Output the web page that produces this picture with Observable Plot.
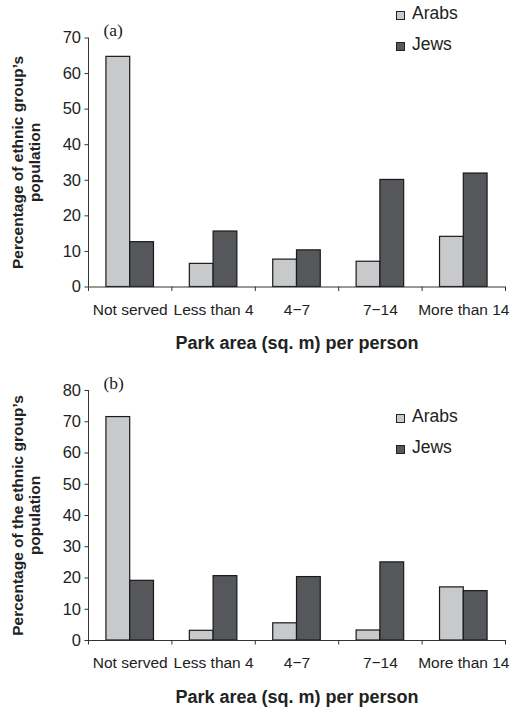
<!DOCTYPE html>
<html><head><meta charset="utf-8">
<script src="https://cdn.jsdelivr.net/npm/d3@7"></script>
<script src="https://cdn.jsdelivr.net/npm/@observablehq/plot@0.6"></script>
<style>
body{margin:0;background:#fff;font-family:"Liberation Sans",Arial,sans-serif;color:#222;}
.chart{position:relative;width:515px;}
.chart svg{display:block;}
.item{position:absolute;left:396px;height:20px;white-space:nowrap;display:flex;align-items:center;font-size:17.5px;color:#222;}
.sw{width:7px;height:7px;border:1px solid #222;margin-right:7px;position:relative;top:2px;}
</style></head><body>
<div id="a" class="chart"></div>
<div id="b" class="chart"></div>
<script>
const categories = ["Not served", "Less than 4", "4\u22127", "7\u221214", "More than 14"];
const series = ["Arabs", "Jews"];
const arabsA = [64.7, 6.5, 7.7, 7.1, 14.1];
const jewsA  = [12.6, 15.6, 10.3, 30.1, 31.9];
const arabsB = [71.5, 3.1, 5.5, 3.2, 17.0];
const jewsB  = [19.1, 20.6, 20.3, 25.0, 15.8];
const yTicksA = [0, 10, 20, 30, 40, 50, 60, 70];
const yTicksB = [0, 10, 20, 30, 40, 50, 60, 70, 80];
const colors = {Arabs: "#c8c9cb", Jews: "#55575a"};
const xTitle = "Park area (sq. m) per person";

function rows(arabs, jews) {
  return categories.flatMap((c, i) => [
    {category: c, i, series: "Arabs", value: arabs[i]},
    {category: c, i, series: "Jews", value: jews[i]}
  ]);
}

function chart({arabs, jews, yTicks, tag, yTitle, height, marginTop, marginBottom}) {
  const data = rows(arabs, jews);
  return Plot.plot({
    width: 515, height, marginTop, marginBottom, marginLeft: 88, marginRight: 10,
    style: {fontFamily: "Liberation Sans, Arial, sans-serif", color: "#222", background: "white", overflow: "visible"},
    x: {domain: [0, categories.length], axis: null},
    y: {domain: [yTicks[0], yTicks[yTicks.length - 1]], axis: null},
    marks: [
      Plot.rectY(data, {
        x1: d => d.i + (d.series === "Arabs" ? 0.215 : 0.5),
        x2: d => d.i + (d.series === "Arabs" ? 0.5 : 0.785),
        y1: 0, y2: "value",
        fill: d => colors[d.series], stroke: "#1a1a1a", strokeWidth: 1.2
      }),
      Plot.ruleY([0], {stroke: "#333"}),
      Plot.ruleX([0], {stroke: "#333"}),
      Plot.axisY(yTicks, {tickSize: 3.5, tickPadding: 4, fontSize: 16.5, stroke: "#333", label: null}),
      Plot.axisX(d3.range(categories.length + 1), {tickSize: 4.5, tickFormat: () => "", stroke: "#333", label: null}),
      Plot.axisX(categories.map((c, i) => i + 0.5), {tickSize: 0, tickPadding: 16.5, fontSize: 15.5, tickFormat: v => categories[Math.floor(v)], label: null}),
      Plot.text([tag], {frameAnchor: "top-left", dx: 15, dy: -2, lineAnchor: "bottom", textAnchor: "start", fontFamily: "Liberation Serif, Times New Roman, serif", fontSize: 17.5}),
      Plot.text([yTitle], {frameAnchor: "left", textAnchor: "middle", lineAnchor: "middle", rotate: -90, dx: -62.5, lineHeight: 1.1, fontWeight: "bold", fontSize: 15.5}),
      Plot.text([xTitle], {frameAnchor: "bottom", dy: 62, lineAnchor: "bottom", fontWeight: "bold", fontSize: 18})
    ]
  });
}

function legend(el, tops) {
  series.forEach((s, k) => {
    const item = document.createElement("div");
    item.className = "item";
    item.style.top = tops[k] + "px";
    const sw = document.createElement("span");
    sw.className = "sw";
    sw.style.background = colors[s];
    item.appendChild(sw);
    item.appendChild(document.createTextNode(s));
    el.appendChild(item);
  });
}

const elA = document.getElementById("a");
elA.appendChild(chart({arabs: arabsA, jews: jewsA, yTicks: yTicksA, tag: "(a)",
  yTitle: "Percentage of ethnic group\u2019s\npopulation", height: 360, marginTop: 37.5, marginBottom: 73.5}));
legend(elA, [3, 34]);

const elB = document.getElementById("b");
elB.appendChild(chart({arabs: arabsB, jews: jewsB, yTicks: yTicksB, tag: "(b)",
  yTitle: "Percentage of the ethnic group\u2019s\npopulation", height: 347, marginTop: 30, marginBottom: 67}));
legend(elB, [46, 77]);
</script>
</body></html>
